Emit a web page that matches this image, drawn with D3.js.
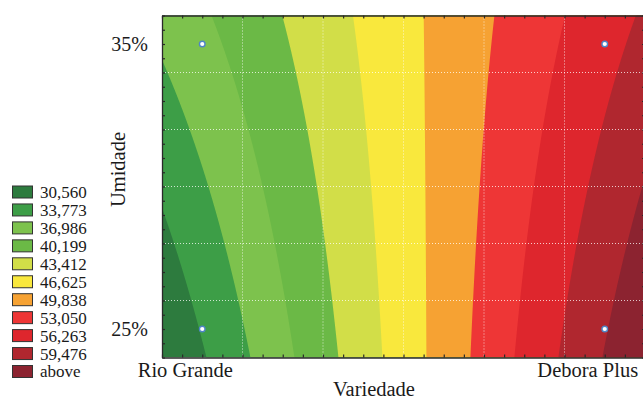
<!DOCTYPE html>
<html>
<head>
<meta charset="utf-8">
<script src="https://cdn.jsdelivr.net/npm/d3@7"></script>
<style>
  body { margin: 0; background: #fff; }
  svg { display: block; }
  text { font-family: "Liberation Serif", "Times New Roman", serif; fill: #1a1a1a; }
</style>
</head>
<body>
<div id="chart"></div>
<script>
// observed responses, [variety][humidity]
const varieties = ['Rio Grande', 'Debora Plus'];
const humidity = [25, 35];
const response = [[30.78, 36.04], [59.25, 55.25]];

// contour levels (upper bounds of each legend class) and class colours
const levels = [30.560, 33.773, 36.986, 40.199, 43.412, 46.625, 49.838, 53.050, 56.263, 59.476];
const bandColors = ['#2d7b3e', '#3d9e47', '#7dc24d', '#6bb946', '#d2de48', '#f9e83d',
  '#f6a233', '#ee3636', '#de262d', '#b0272f', '#8c2330'];

const width = 643, height = 399;
const plot = { left: 162, right: 645, top: 15.5, bottom: 357.5 };

const svg = d3.select('#chart').append('svg')
  .attr('width', width)
  .attr('height', height);

const x = d3.scaleLinear().domain([-0.1, 1.1]).range([plot.left, plot.right]);
const y = d3.scaleLinear().domain([24, 36]).range([plot.bottom, plot.top]);

// bilinear surface through the four observations
function surface(u, h) {
  const v = (h - humidity[0]) / (humidity[1] - humidity[0]);
  const a = response[0][0], b = response[0][1], c = response[1][1], d = response[1][0];
  return a * (1 - u) * (1 - v) + b * (1 - u) * v + c * u * v + d * u * (1 - v);
}

const nx = 320, ny = 320;
const uDom = x.domain(), hDom = y.domain();
const values = new Array(nx * ny);
for (let j = 0; j < ny; j++) {
  for (let i = 0; i < nx; i++) {
    const u = uDom[0] + (i + 0.5) / nx * (uDom[1] - uDom[0]);
    const h = hDom[1] - (j + 0.5) / ny * (hDom[1] - hDom[0]);
    values[j * nx + i] = surface(u, h);
  }
}

const contours = d3.contours().size([nx, ny]).thresholds(levels)(values);
const path = d3.geoPath(d3.geoTransform({
  point: function (px, py) {
    this.stream.point(
      x(uDom[0] + px / nx * (uDom[1] - uDom[0])),
      y(hDom[1] - py / ny * (hDom[1] - hDom[0])));
  }
}));

svg.append('defs').append('clipPath').attr('id', 'plot-clip')
  .append('rect')
  .attr('x', plot.left).attr('y', plot.top)
  .attr('width', plot.right - plot.left).attr('height', plot.bottom - plot.top);

const plotArea = svg.append('g').attr('clip-path', 'url(#plot-clip)');
plotArea.append('rect')
  .attr('x', plot.left).attr('y', plot.top)
  .attr('width', plot.right - plot.left).attr('height', plot.bottom - plot.top)
  .attr('fill', bandColors[0]);

plotArea.selectAll('path.band')
  .data(contours)
  .join('path')
  .attr('class', 'band')
  .attr('d', path)
  .attr('fill', (d, i) => bandColors[i + 1]);

// dotted white grid
const gridU = d3.range(0.1, 1.0, 0.2);
const gridH = d3.range(26, 35, 2);
plotArea.selectAll('line.gx')
  .data(gridU)
  .join('line')
  .attr('class', 'gx')
  .attr('x1', d => x(d)).attr('x2', d => x(d))
  .attr('y1', plot.top).attr('y2', plot.bottom)
  .attr('stroke', '#fff').attr('stroke-opacity', 0.75)
  .attr('stroke-width', 1).attr('stroke-dasharray', '1,2');
plotArea.selectAll('line.gy')
  .data(gridH)
  .join('line')
  .attr('class', 'gy')
  .attr('y1', d => y(d)).attr('y2', d => y(d))
  .attr('x1', plot.left).attr('x2', plot.right)
  .attr('stroke', '#fff').attr('stroke-opacity', 0.75)
  .attr('stroke-width', 1).attr('stroke-dasharray', '1,2');

// observation markers
const obs = [];
varieties.forEach((v, i) => humidity.forEach((h, k) => obs.push({ u: i, h: h, val: response[i][k] })));
plotArea.selectAll('circle.obs')
  .data(obs)
  .join('circle')
  .attr('class', 'obs')
  .attr('cx', d => x(d.u))
  .attr('cy', d => y(d.h))
  .attr('r', 2.8)
  .attr('fill', '#fff')
  .attr('stroke', '#4f86c6')
  .attr('stroke-width', 1.4);

// frame with inward minor ticks
const tickU = d3.range(-0.1, 1.1001, 0.05);
const tickH = d3.range(24, 36.001, 0.5);
const axes = [
  d3.axisBottom(x).tickValues(tickU).tickSize(-3).tickFormat(''),
  d3.axisTop(x).tickValues(tickU).tickSize(-3).tickFormat(''),
  d3.axisLeft(y).tickValues(tickH).tickSize(-3).tickFormat(''),
  d3.axisRight(y).tickValues(tickH).tickSize(-3).tickFormat('')
];
const axisPos = [
  `translate(0,${plot.bottom})`, `translate(0,${plot.top})`,
  `translate(${plot.left},0)`, `translate(${plot.right},0)`
];
axes.forEach((ax, i) => {
  const g = svg.append('g').attr('transform', axisPos[i]).call(ax.tickSizeOuter(0));
  g.select('.domain').attr('stroke', '#2a2a2a').attr('stroke-width', 1.3);
  g.selectAll('.tick line').attr('stroke', '#2a2a2a').attr('stroke-width', 1.2);
});

// axis labels
svg.selectAll('text.hlab')
  .data(humidity)
  .join('text')
  .attr('class', 'hlab')
  .attr('x', plot.left - 14)
  .attr('y', d => y(d))
  .attr('dy', '0.35em')
  .attr('text-anchor', 'end')
  .attr('font-size', 20)
  .text(d => d + '%');

svg.selectAll('text.vlab')
  .data(varieties)
  .join('text')
  .attr('class', 'vlab')
  .attr('x', (d, i) => x(i) - 17)
  .attr('y', 377)
  .attr('text-anchor', 'middle')
  .attr('font-size', 20.5)
  .text(d => d);

svg.append('text')
  .attr('x', 374)
  .attr('y', 396)
  .attr('text-anchor', 'middle')
  .attr('font-size', 20.5)
  .text('Variedade');

svg.append('text')
  .attr('transform', `translate(125,${(y(35) + y(25)) / 2 - 17}) rotate(-90)`)
  .attr('text-anchor', 'middle')
  .attr('font-size', 20.5)
  .text('Umidade');

// legend
const fmt = d3.formatLocale({ decimal: ',', thousands: '.', grouping: [3], currency: ['', ''] }).format('.3f');
const legendLabels = levels.map(fmt).concat(['above']);
const legend = svg.append('g').attr('transform', 'translate(12,192)');
const rows = legend.selectAll('g')
  .data(legendLabels)
  .join('g')
  .attr('transform', (d, i) => `translate(0,${i * 17.95})`);
rows.append('rect')
  .attr('x', 0.5).attr('y', -6)
  .attr('width', 20).attr('height', 12)
  .attr('fill', (d, i) => bandColors[i])
  .attr('stroke', '#333').attr('stroke-width', 1);
rows.append('text')
  .attr('x', 28)
  .attr('dy', '0.35em')
  .attr('font-size', 17)
  .text(d => d);
</script>
</body>
</html>
